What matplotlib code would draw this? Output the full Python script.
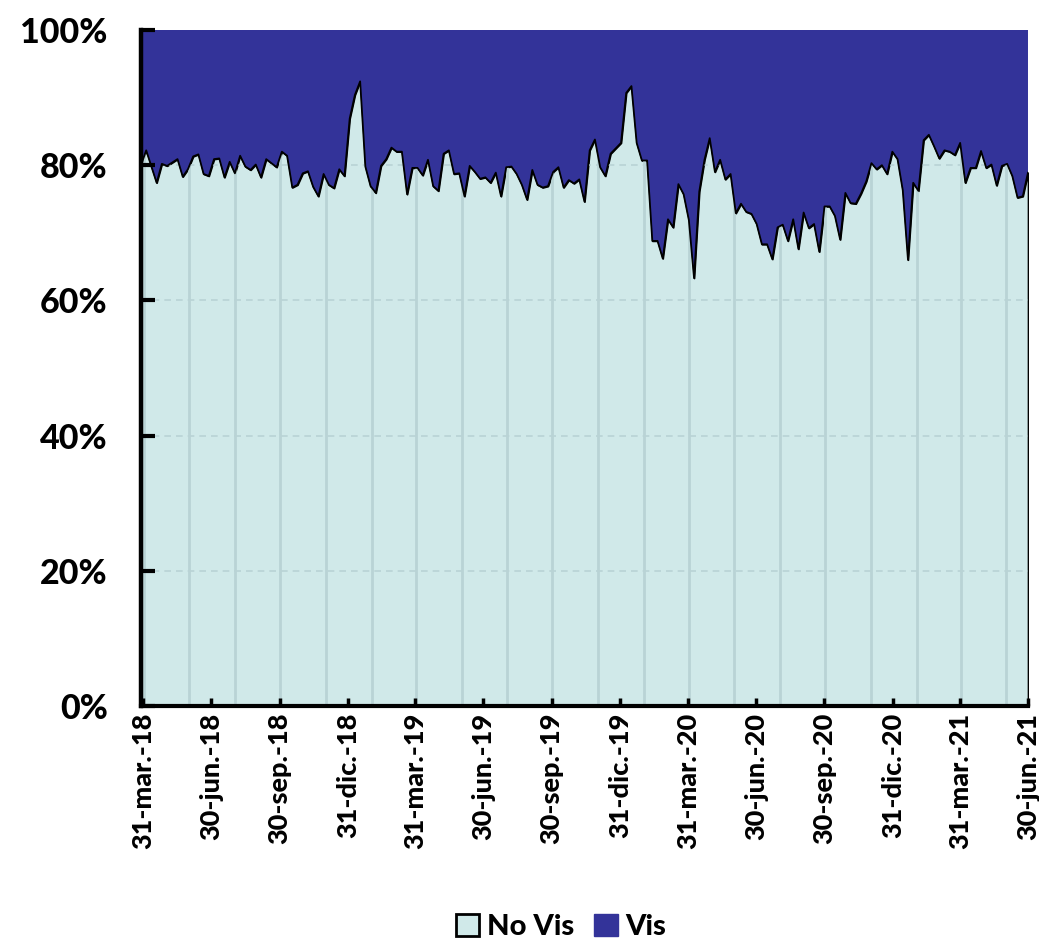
import matplotlib
matplotlib.use("Agg")
import matplotlib.pyplot as plt
from matplotlib.patches import Patch
import pandas as pd

plt.rcParams['font.family'] = ['Lato', 'DejaVu Sans']

# Weekly share of "No Vis" (%)
no_vis = [
    80.0, 82.2, 79.8, 77.4, 80.2, 79.9, 80.4, 80.9, 78.3, 79.4,
    81.3, 81.6, 78.7, 78.4, 80.9, 81.0, 78.2, 80.5, 78.8, 81.4,
    79.8, 79.3, 80.1, 78.2, 80.9, 80.3, 79.7, 82.0, 81.4, 76.7,
    77.1, 78.8, 79.1, 76.8, 75.4, 78.7, 77.1, 76.6, 79.4, 78.4,
    86.9, 90.4, 92.4, 79.8, 76.9, 75.9, 79.9, 80.9, 82.6, 82.0,
    82.0, 75.7, 79.6, 79.6, 78.5, 80.8, 76.9, 76.2, 81.7, 82.2,
    78.7, 78.8, 75.4, 79.9, 79.0, 78.0, 78.2, 77.4, 78.9, 75.4,
    79.7, 79.8, 78.7, 77.1, 74.9, 79.3, 77.1, 76.7, 76.9, 79.0,
    79.7, 76.7, 77.8, 77.3, 77.9, 74.6, 82.2, 83.8, 79.7, 78.4,
    81.7, 82.5, 83.3, 90.7, 91.7, 83.3, 80.7, 80.7, 68.8, 68.8,
    66.2, 72.0, 70.8, 77.2, 75.7, 71.9, 63.3, 76.1, 80.8, 84.0,
    79.0, 80.8, 77.9, 78.7, 72.9, 74.3, 73.1, 72.8, 71.3, 68.3,
    68.3, 66.1, 70.8, 71.2, 68.8, 72.0, 67.6, 73.0, 70.7, 71.3,
    67.2, 73.9, 73.9, 72.5, 69.0, 75.9, 74.4, 74.3, 75.8, 77.6,
    80.3, 79.4, 80.0, 78.7, 82.0, 80.9, 76.3, 66.0, 77.4, 76.2,
    83.7, 84.5, 82.8, 81.0, 82.2, 82.0, 81.5, 83.3, 77.4, 79.6,
    79.6, 82.1, 79.6, 80.1, 77.0, 79.9, 80.2, 78.4, 75.2, 75.4,
    78.9,
]
vis = [100.0 - v for v in no_vis]
dates = pd.date_range('2018-03-28', periods=len(no_vis), freq='7D')

tick_dates = pd.date_range('2018-03-31', '2021-06-30', freq='QE')
tick_labels = ['31-mar.-18', '30-jun.-18', '30-sep.-18', '31-dic.-18',
               '31-mar.-19', '30-jun.-19', '30-sep.-19', '31-dic.-19',
               '31-mar.-20', '30-jun.-20', '30-sep.-20', '31-dic.-20',
               '31-mar.-21', '30-jun.-21']
y_ticks = [0, 20, 40, 60, 80, 100]
y_labels = ['0%', '20%', '40%', '60%', '80%', '100%']
series_names = ['No Vis', 'Vis']

c_novis = '#D0E9E9'
c_vis = '#333399'
c_grid = '#B9D3D5'

fig = plt.figure(figsize=(10.39, 9.43), dpi=100)
ax = fig.add_axes([0.1357, 0.2513, 0.8537, 0.7169])

ax.fill_between(dates, 0, no_vis, facecolor=c_novis, edgecolor='black',
                linewidth=1.2, zorder=1)
ax.fill_between(dates, no_vis, [a + b for a, b in zip(no_vis, vis)],
                facecolor=c_vis, edgecolor='none', zorder=3)
ax.plot(dates, no_vis, color='black', linewidth=1.3, zorder=4)

# gridlines
for d in pd.date_range('2018-04-01', '2021-06-30', freq='2MS'):
    ax.axvline(d, color=c_grid, linewidth=2.0, zorder=2)
for yv in y_ticks[1:]:
    ax.axhline(yv, color=c_grid, linewidth=1.2, linestyle=(0, (4, 3)), zorder=2)

ax.set_xlim(dates[0], dates[-1])
ax.set_ylim(0, 100)
ax.set_xticks(tick_dates)
ax.set_xticklabels(tick_labels, rotation=90, fontsize=19.5, fontweight='black')
ax.set_yticks(y_ticks)
ax.set_yticklabels(y_labels, fontsize=24.5, fontweight='black')
ax.tick_params(axis='x', direction='in', length=6, width=2.5, pad=5)
ax.tick_params(axis='y', direction='in', length=10, width=3, pad=24)
ax.xaxis.set_zorder(5)
ax.yaxis.set_zorder(5)
for lbl in ax.get_yticklabels():
    lbl.set_horizontalalignment('right')

for s in ['top', 'right']:
    ax.spines[s].set_visible(False)
ax.spines['left'].set_linewidth(3.2)
ax.spines['bottom'].set_linewidth(3)
ax.spines['left'].set_zorder(6)
ax.spines['bottom'].set_zorder(6)

handles = [Patch(facecolor=c_novis, edgecolor='black', linewidth=2),
           Patch(facecolor=c_vis, edgecolor=c_vis)]
fig.legend(handles, series_names, loc='center', bbox_to_anchor=(0.54, 0.017),
           ncol=2, frameon=False, prop={'size': 21, 'weight': 'black'},
           handlelength=0.8, handleheight=0.8, handletextpad=0.25, columnspacing=0.7,
           borderpad=0.1)

fig.savefig('out.png', dpi=100)
